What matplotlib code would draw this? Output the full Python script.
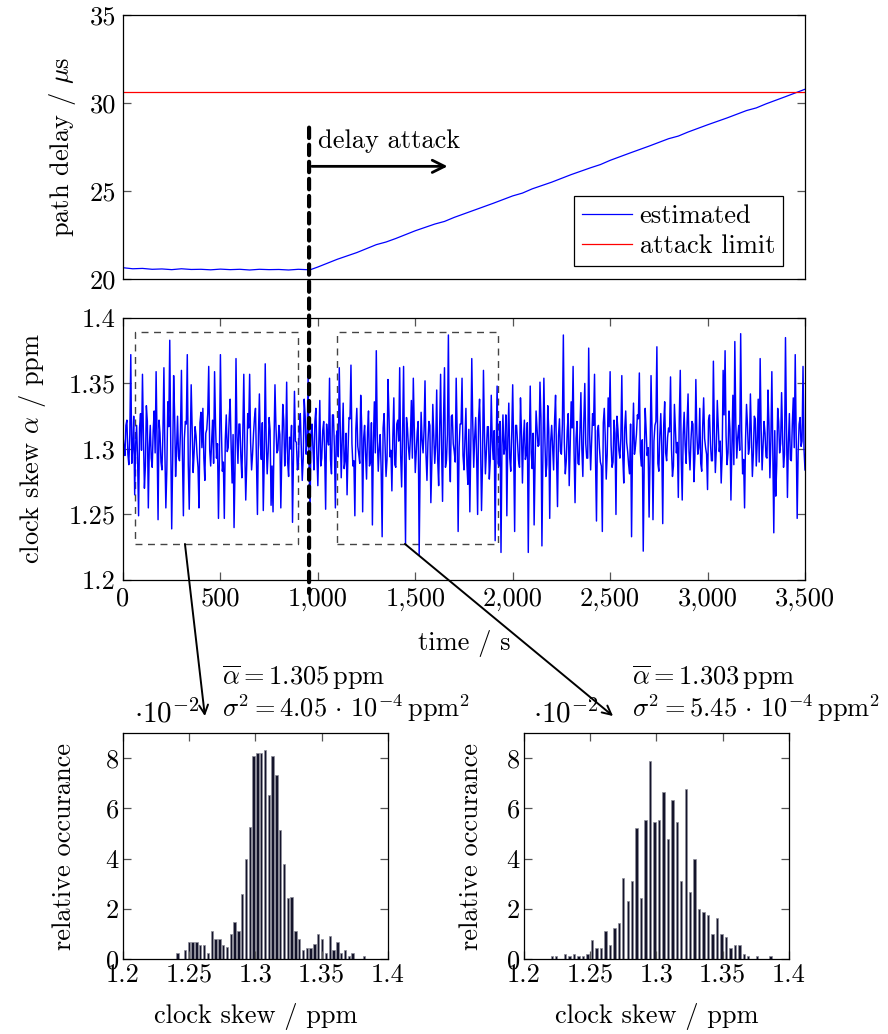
import numpy as np
import matplotlib
matplotlib.use('Agg')
import matplotlib.pyplot as plt
from matplotlib.patches import Rectangle, ConnectionPatch

plt.rcParams['font.family'] = 'serif'
plt.rcParams['font.serif'] = ['cmr10']
plt.rcParams['mathtext.fontset'] = 'cm'
plt.rcParams['axes.formatter.use_mathtext'] = True
plt.rcParams['font.size'] = 19

# ---- path delay (top) ----
delay_t = [0, 50, 100, 150, 200, 250, 300, 350, 400, 450, 500, 550, 600, 650, 700, 750,
           800, 850, 900, 960, 1000, 1050, 1100, 1200, 1300, 1350, 1400, 1500, 1600, 1650,
           1700, 1800, 1900, 2000, 2050, 2100, 2200, 2300, 2400, 2450, 2500, 2600, 2700,
           2800, 2850, 2900, 3000, 3100, 3200, 3250, 3300, 3400, 3500]
delay_est = [20.64, 20.58, 20.6, 20.55, 20.57, 20.53, 20.58, 20.54, 20.55, 20.52, 20.56,
             20.53, 20.55, 20.51, 20.55, 20.53, 20.54, 20.51, 20.55, 20.52, 20.68, 20.9,
             21.12, 21.5, 21.95, 22.1, 22.3, 22.74, 23.12, 23.27, 23.5, 23.9, 24.3, 24.72,
             24.88, 25.12, 25.5, 25.93, 26.32, 26.5, 26.74, 27.15, 27.55, 27.97, 28.12,
             28.35, 28.76, 29.15, 29.57, 29.72, 29.95, 30.36, 30.78]
attack_limit = 30.6
attack_start = 955

# ---- clock skew (middle): samples every 10 s ...
skew = [
    1.310, 1.295, 1.322, 1.288, 1.372, 1.301, 1.265, 1.318, 1.249, 1.327,
    1.357, 1.270, 1.333, 1.255, 1.318, 1.286, 1.329, 1.359, 1.246, 1.312,
    1.284, 1.362, 1.255, 1.336, 1.383, 1.239, 1.356, 1.279, 1.325, 1.291,
    1.360, 1.249, 1.321, 1.372, 1.254, 1.349, 1.282, 1.317, 1.296, 1.255,
    1.328, 1.331, 1.276, 1.315, 1.363, 1.287, 1.322, 1.359, 1.293, 1.247,
    1.372, 1.283, 1.247, 1.326, 1.301, 1.338, 1.274, 1.240, 1.369, 1.289,
    1.319, 1.278, 1.357, 1.261, 1.327, 1.357, 1.284, 1.312, 1.331, 1.250,
    1.342, 1.292, 1.253, 1.365, 1.281, 1.324, 1.257, 1.252, 1.349, 1.297,
    1.318, 1.255, 1.334, 1.287, 1.351, 1.279, 1.300, 1.244, 1.344, 1.305,
    1.289, 1.327, 1.276, 1.338, 1.296, 1.355, 1.252, 1.319, 1.284, 1.331,
    1.272, 1.337, 1.293, 1.321, 1.254, 1.308, 1.354, 1.281, 1.326, 1.255,
    1.314, 1.362, 1.278, 1.335, 1.291, 1.265, 1.324, 1.364, 1.287, 1.249,
    1.331, 1.296, 1.341, 1.252, 1.318, 1.277, 1.329, 1.290, 1.242, 1.336,
    1.375, 1.283, 1.311, 1.233, 1.327, 1.279, 1.353, 1.294, 1.268, 1.339,
    1.286, 1.322, 1.362, 1.271, 1.363, 1.228, 1.316, 1.292, 1.337, 1.354,
    1.282, 1.313, 1.219, 1.328, 1.297, 1.352, 1.276, 1.321, 1.259, 1.334,
    1.289, 1.345, 1.272, 1.357, 1.260, 1.362, 1.291, 1.387, 1.275, 1.326,
    1.298, 1.354, 1.237, 1.319, 1.354, 1.284, 1.331, 1.273, 1.252, 1.369,
    1.286, 1.324, 1.250, 1.338, 1.253, 1.360, 1.281, 1.317, 1.277, 1.341,
    1.292, 1.230, 1.348, 1.287, 1.221, 1.326, 1.301, 1.249, 1.335, 1.283,
    1.349, 1.237, 1.318, 1.291, 1.339, 1.274, 1.322, 1.296, 1.221, 1.348,
    1.285, 1.242, 1.329, 1.302, 1.351, 1.226, 1.354, 1.279, 1.333, 1.247,
    1.318, 1.284, 1.341, 1.256, 1.323, 1.296, 1.387, 1.281, 1.314, 1.272,
    1.336, 1.363, 1.259, 1.321, 1.288, 1.343, 1.279, 1.350, 1.293, 1.377,
    1.284, 1.327, 1.357, 1.245, 1.318, 1.290, 1.237, 1.331, 1.277, 1.339,
    1.359, 1.286, 1.322, 1.250, 1.315, 1.293, 1.356, 1.274, 1.329, 1.298,
    1.281, 1.233, 1.335, 1.302, 1.326, 1.358, 1.287, 1.222, 1.331, 1.295,
    1.248, 1.356, 1.246, 1.318, 1.378, 1.283, 1.327, 1.243, 1.336, 1.291,
    1.316, 1.355, 1.279, 1.334, 1.297, 1.263, 1.360, 1.261, 1.328, 1.289,
    1.342, 1.284, 1.321, 1.275, 1.353, 1.296, 1.331, 1.283, 1.339, 1.301,
    1.269, 1.326, 1.291, 1.367, 1.282, 1.337, 1.298, 1.274, 1.360, 1.375,
    1.288, 1.329, 1.261, 1.341, 1.382, 1.293, 1.318, 1.388, 1.281, 1.255,
    1.334, 1.296, 1.342, 1.279, 1.325, 1.287, 1.338, 1.369, 1.284, 1.321,
    1.294, 1.345, 1.278, 1.359, 1.236, 1.264, 1.331, 1.297, 1.343, 1.286,
    1.385, 1.263, 1.327, 1.291, 1.339, 1.372, 1.247, 1.319, 1.302, 1.363,
    1.284,
]
# ... and the dense core band in between (t = 5, 15, ..., 3495)
skew_mid = [
    1.302, 1.318, 1.296, 1.311, 1.289, 1.325, 1.304, 1.292, 1.316, 1.299,
    1.309, 1.287, 1.321, 1.301, 1.293, 1.314, 1.297, 1.306, 1.322, 1.290,
    1.312, 1.298, 1.284, 1.317, 1.305, 1.291, 1.326, 1.300, 1.294, 1.313,
    1.296, 1.308, 1.319, 1.288, 1.303, 1.315, 1.297, 1.310, 1.286, 1.320,
    1.301, 1.293, 1.312, 1.327, 1.299, 1.306, 1.289, 1.318, 1.304, 1.295,
    1.315, 1.290, 1.307, 1.298, 1.323, 1.302, 1.311, 1.285, 1.309, 1.319,
    1.294, 1.313, 1.300, 1.288, 1.316, 1.305, 1.296, 1.324, 1.291, 1.310,
    1.303, 1.320, 1.292, 1.307, 1.298, 1.314, 1.287, 1.305, 1.317, 1.299,
    1.311, 1.295, 1.322, 1.302, 1.290, 1.309, 1.318, 1.297, 1.306, 1.284,
    1.316, 1.301, 1.293, 1.325, 1.307, 1.289, 1.312, 1.300, 1.321, 1.296,
    1.305, 1.287, 1.314, 1.298, 1.319, 1.303, 1.292, 1.326, 1.301, 1.310,
    1.294, 1.317, 1.306, 1.285, 1.312, 1.299, 1.323, 1.304, 1.291, 1.315,
    1.302, 1.289, 1.318, 1.308, 1.296, 1.313, 1.287, 1.320, 1.305, 1.297,
    1.311, 1.300, 1.284, 1.316, 1.303, 1.292, 1.327, 1.299, 1.310, 1.288,
    1.319, 1.306, 1.295, 1.312, 1.290, 1.324, 1.301, 1.309, 1.293, 1.315,
    1.298, 1.321, 1.287, 1.307, 1.314, 1.296, 1.305, 1.318, 1.289, 1.310,
    1.303, 1.292, 1.316, 1.300, 1.322, 1.286, 1.311, 1.297, 1.325, 1.304,
    1.290, 1.313, 1.301, 1.319, 1.295, 1.308, 1.288, 1.315, 1.302, 1.320,
    1.309, 1.294, 1.323, 1.305, 1.287, 1.312, 1.298, 1.317, 1.291, 1.306,
    1.314, 1.300, 1.289, 1.321, 1.303, 1.296, 1.326, 1.308, 1.293, 1.311,
    1.299, 1.318, 1.304, 1.286, 1.313, 1.307, 1.292, 1.320, 1.301, 1.297,
    1.312, 1.290, 1.316, 1.303, 1.324, 1.295, 1.309, 1.288, 1.315, 1.306,
    1.301, 1.322, 1.294, 1.310, 1.298, 1.319, 1.305, 1.291, 1.327, 1.302,
    1.316, 1.297, 1.308, 1.289, 1.313, 1.300, 1.321, 1.304, 1.293, 1.311,
    1.306, 1.318, 1.292, 1.314, 1.301, 1.287, 1.320, 1.309, 1.296, 1.317,
    1.303, 1.290, 1.312, 1.325, 1.299, 1.308, 1.294, 1.316, 1.305, 1.288,
    1.319, 1.302, 1.296, 1.311, 1.323, 1.298, 1.307, 1.290, 1.314, 1.301,
    1.295, 1.315, 1.306, 1.321, 1.289, 1.310, 1.302, 1.318, 1.297, 1.309,
    1.313, 1.300, 1.287, 1.316, 1.305, 1.324, 1.292, 1.311, 1.303, 1.320,
    1.298, 1.307, 1.319, 1.294, 1.312, 1.301, 1.289, 1.317, 1.308, 1.296,
    1.322, 1.304, 1.291, 1.313, 1.300, 1.318, 1.306, 1.295, 1.326, 1.310,
    1.297, 1.315, 1.303, 1.288, 1.320, 1.309, 1.299, 1.314, 1.292, 1.307,
    1.318, 1.301, 1.311, 1.296, 1.323, 1.305, 1.290, 1.316, 1.302, 1.312,
    1.293, 1.320, 1.307, 1.299, 1.314, 1.287, 1.321, 1.304, 1.310, 1.296,
    1.317, 1.305, 1.292, 1.319, 1.301, 1.311, 1.298, 1.324, 1.306, 1.300,
]

win1 = (60, 900)
win2 = (1100, 1925)
win_lo, win_hi = 1.2275, 1.389

time_ticks = [0, 500, 1000, 1500, 2000, 2500, 3000, 3500]
time_labels = ['0', '500', '1,000', '1,500', '2,000', '2,500', '3,000', '3,500']

# ---- histograms (relative occurance, x 1e-2) ----
h1_min, h1_max = 1.2411, 1.3819
h1 = [0.24, 0, 0.36, 0.67, 0.67, 0.67, 0.56, 0.56, 0.24, 1.12,
      0.79, 0.79, 0.56, 0.46, 1.0, 1.46, 1.12, 2.58, 4.0, 5.24,
      8.1, 8.2, 8.2, 8.33, 6.55, 8.1, 7.34, 5.12, 3.78, 2.45,
      2.47, 1.13, 0.8, 0.35, 0.45, 0.45, 0.6, 1.01, 0.8, 0.24,
      0.91, 0.35, 0.68, 0.24, 0.35, 0.12, 0.24, 0, 0, 0.12]
h2_min, h2_max = 1.2210, 1.3861
h2 = [0.11, 0.11, 0, 0.21, 0.11, 0.21, 0.11, 0.11, 0.21, 0.77,
      0.44, 0.44, 1.1, 0.54, 1.22, 1.44, 3.22, 2.33, 3.11, 5.22,
      2.44, 5.55, 7.88, 5.44, 5.55, 6.66, 4.77, 6.33, 5.44, 3.11,
      6.77, 2.66, 4.0, 2.0, 1.89, 1.77, 0.99, 1.65, 0.99, 0.89,
      0.44, 0.54, 0.54, 0.21, 0.11, 0, 0.11, 0, 0, 0.11]
h1_text = [r'$\overline{\alpha} = 1.305\,\mathrm{ppm}$',
           r'$\sigma^2 = 4.05\,\cdot\,10^{-4}\,\mathrm{ppm}^2$']
h2_text = [r'$\overline{\alpha} = 1.303\,\mathrm{ppm}$',
           r'$\sigma^2 = 5.45\,\cdot\,10^{-4}\,\mathrm{ppm}^2$']

tick_col = '#555555'


def style(ax):
    ax.tick_params(direction='in', length=6, width=0.9, color=tick_col,
                   top=True, right=True, pad=5)
    for s in ax.spines.values():
        s.set_linewidth(0.9)


fig = plt.figure(figsize=(8.88, 10.34), dpi=100)
ax1 = fig.add_axes([0.1385, 0.7302, 0.768, 0.2553])
ax2 = fig.add_axes([0.1385, 0.4391, 0.768, 0.2534])
ah1 = fig.add_axes([0.1385, 0.0725, 0.2984, 0.2186])
ah2 = fig.add_axes([0.5901, 0.0725, 0.2984, 0.2186])

# top
ax1.plot(delay_t, delay_est, color='#0000ff', lw=0.9, label='estimated')
ax1.axhline(attack_limit, color='#ff0000', lw=0.9, label='attack limit')
ax1.set_xlim(0, 3500)
ax1.set_ylim(20, 35)
ax1.set_yticks([20, 25, 30, 35])
ax1.set_yticklabels(['20', '25', '30', '35'])
ax1.set_xticks([])
style(ax1)
ax1.set_ylabel(r'path delay / $\mu$s')
ax1.yaxis.set_label_coords(-0.066, 0.5)
leg = ax1.legend(loc='lower right', bbox_to_anchor=(0.968, 0.048), fancybox=False,
                 edgecolor='black', framealpha=1, handlelength=1.9, handletextpad=0.3,
                 borderpad=0.3, labelspacing=0.25, borderaxespad=0)
leg.get_frame().set_linewidth(0.9)
ax1.annotate('', xy=(1680, 26.4), xytext=(attack_start, 26.4),
             arrowprops=dict(arrowstyle='->', lw=2, color='black', mutation_scale=22))
ax1.text(1000, 27.85, 'delay attack', va='center', ha='left')

# middle
t10 = np.arange(len(skew)) * 10
t5 = np.arange(len(skew_mid)) * 10 + 5
skew_t = np.concatenate([t10, t5])
skew_v = np.concatenate([skew, skew_mid])
order = np.argsort(skew_t)
ax2.plot(skew_t[order], skew_v[order], color='#0000ff', lw=1.05)
ax2.set_xlim(0, 3500)
ax2.set_ylim(1.2, 1.4)
ax2.set_yticks([1.2, 1.25, 1.3, 1.35, 1.4])
ax2.set_yticklabels(['1.2', '1.25', '1.3', '1.35', '1.4'])
ax2.set_xticks(time_ticks)
ax2.set_xticklabels(time_labels)
style(ax2)
ax2.set_ylabel(r'clock skew $\alpha$ / ppm')
ax2.yaxis.set_label_coords(-0.11, 0.5)
ax2.set_xlabel('time / s')
ax2.xaxis.set_label_coords(0.5, -0.19)
for w in (win1, win2):
    ax2.add_patch(Rectangle((w[0], win_lo), w[1] - w[0], win_hi - win_lo, fill=False,
                            ls=(0, (5, 4)), lw=1, ec='#444444'))

# dashed attack line across both panels
con = ConnectionPatch(xyA=(attack_start, 28.6), coordsA=ax1.transData,
                      xyB=(attack_start, 1.19), coordsB=ax2.transData,
                      color='black', lw=3, ls=(0, (2.5, 1.6)))
fig.add_artist(con)


def hist(ax, lo, hi, vals, txt, xt, arrow_x):
    centers = np.linspace(lo, hi, len(vals))
    ax.bar(centers, vals, width=0.0018, color='#14142b', edgecolor='#8c8c99', lw=0.5)
    ax.set_xlim(1.2, 1.4)
    ax.set_ylim(0, 9)
    ax.set_xticks([1.2, 1.25, 1.3, 1.35, 1.4])
    ax.set_xticklabels(['1.2', '1.25', '1.3', '1.35', '1.4'])
    ax.set_yticks([0, 2, 4, 6, 8])
    ax.set_yticklabels(['0', '2', '4', '6', '8'])
    style(ax)
    ax.tick_params(pad=3)
    ax.set_xlabel('clock skew / ppm')
    ax.xaxis.set_label_coords(0.5, -0.195)
    ax.set_ylabel('relative occurance')
    ax.text(xt, 1.243, txt[0], transform=ax.transAxes, va='center', ha='left')
    ax.text(xt, 1.112, txt[1], transform=ax.transAxes, va='center', ha='left')
    ax.text(arrow_x - 0.02, 1.085, r'$\cdot 10^{-2}$', transform=ax.transAxes,
            va='center', ha='right', fontsize=21)


hist(ah1, h1_min, h1_max, h1, h1_text, 0.374, 0.31)
ah1.yaxis.set_label_coords(-0.177, 0.5)
hist(ah2, h2_min, h2_max, h2, h2_text, 0.408, 0.30)
ah2.yaxis.set_label_coords(-0.155, 0.5)

# connectors from windows to histograms
for xa, axh, xb in ((318, ah1, 0.309), (1447, ah2, 0.336)):
    c = ConnectionPatch(xyA=(xa, win_lo), coordsA=ax2.transData,
                        xyB=(xb, 1.075), coordsB=axh.transAxes,
                        arrowstyle='->', lw=1.4, color='black', mutation_scale=16)
    fig.add_artist(c)

fig.savefig('out.png', dpi=100)
